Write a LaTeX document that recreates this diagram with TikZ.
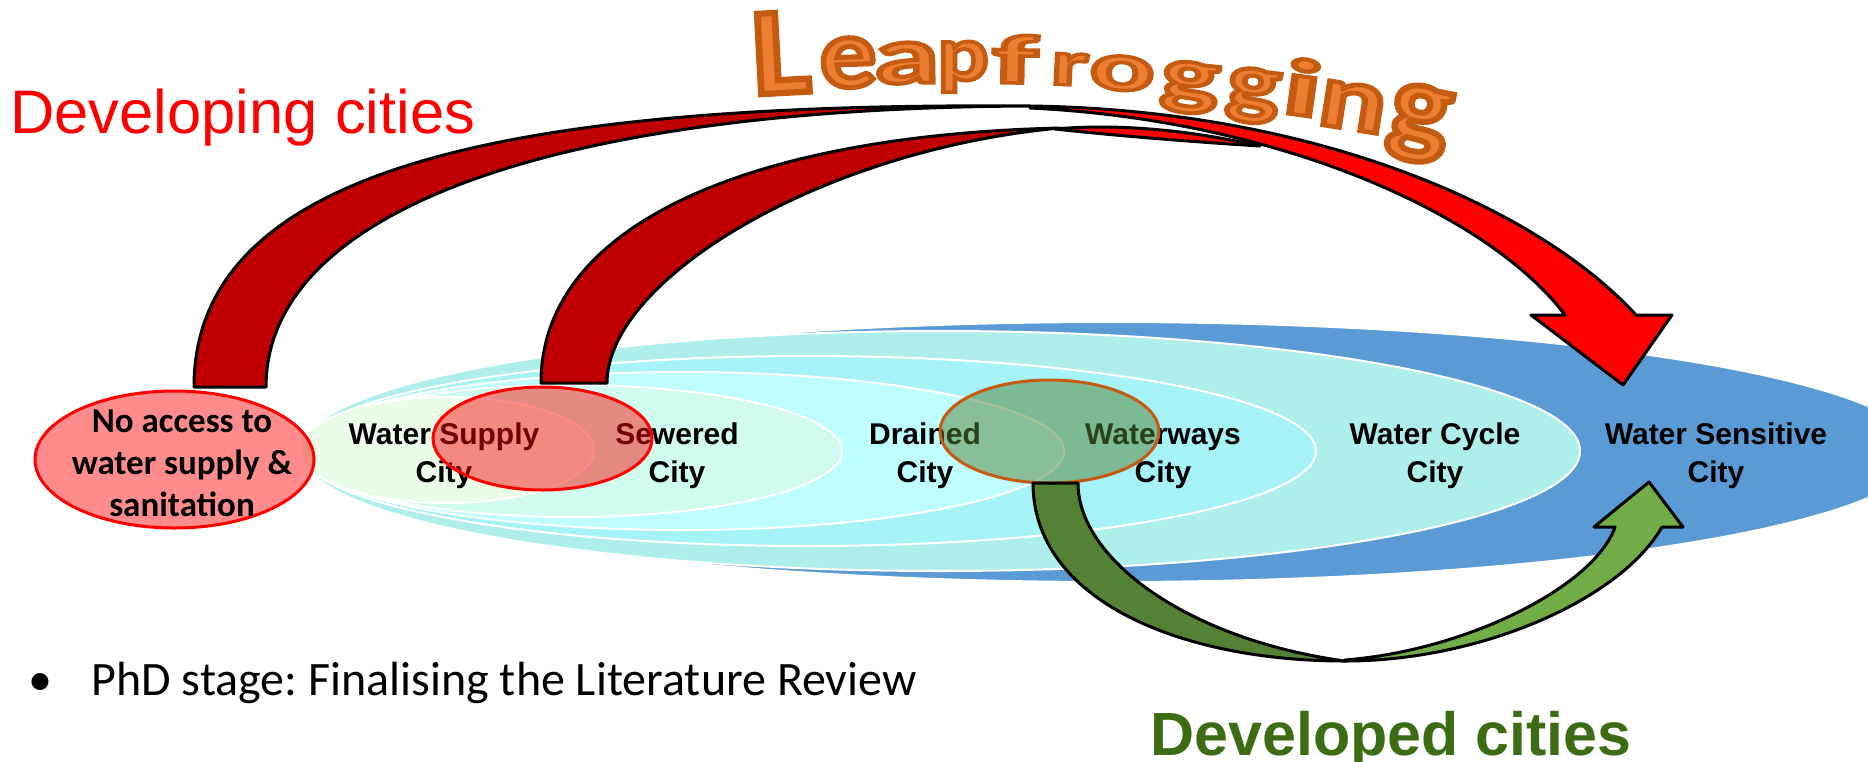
\documentclass[tikz,border=0pt]{standalone}
\usepackage{fontspec}
\setmainfont{Liberation Sans}
\newfontfamily\calfont{Carlito}
\newfontfamily\lffont[FakeBold=5]{Carlito}
\definecolor{cBlue}{HTML}{5B9BD5}
\definecolor{cCycle}{HTML}{AEEFEC}
\definecolor{cWays}{HTML}{A5F3F7}
\definecolor{cDrain}{HTML}{BEFEFE}
\definecolor{cSewer}{HTML}{D0FCEF}
\definecolor{cSupply}{HTML}{EAFDE8}
\definecolor{rDark}{HTML}{C00000}
\definecolor{rBright}{HTML}{FF0000}
\definecolor{gDark}{HTML}{548235}
\definecolor{gBright}{HTML}{70AD47}
\definecolor{ovGreen}{HTML}{548235}
\definecolor{ovEdge}{HTML}{C55A11}
\definecolor{orFill}{HTML}{ED7D31}
\definecolor{devGreen}{RGB}{60,108,20}
\newcommand\twoln[2]{\begin{tabular}[t]{@{}c@{}}#1\\#2\end{tabular}}
\newcommand\threeln[3]{\begin{tabular}[t]{@{}c@{}}#1\\#2\\#3\end{tabular}}
% outlined letter: orange fill, dark orange stroke
\newcommand\olet[1]{\special{pdf:bcolor [0.929 0.490 0.192] [0.773 0.353 0.067]}#1\special{pdf:ecolor}}
\frenchspacing
\begin{document}
\begin{tikzpicture}[x=0.5pt,y=-0.5pt,
  ring/.style={draw=white, line width=1pt},
  city/.style={anchor=base, inner sep=0pt, font=\bfseries\fontsize{15}{19}\selectfont},
  redov/.style={draw=rBright, line width=1.5pt, fill=rBright, fill opacity=0.45},
  greenov/.style={draw=ovEdge, line width=1.5pt, fill=ovGreen, fill opacity=0.5},
  arr/.style={draw=black, line width=1.5pt, line join=round},
  lfl/.style={anchor=base, inner sep=0pt, text=orFill, font=\lffont\bfseries\fontsize{50}{50}\selectfont}]
\useasboundingbox (0,0) rectangle (1868,761);
\clip (0,0) rectangle (1868,761);
\fill[white] (0,0) rectangle (1868,761);

% nested city ellipses
\path[ring, fill=cBlue]   (1110,452) ellipse [x radius=405pt, y radius=65pt];
\path[ring, fill=cCycle]  (940,451)  ellipse [x radius=320pt, y radius=60pt];
\path[ring, fill=cWays]   (808,451)  ellipse [x radius=254pt, y radius=47.5pt];
\path[ring, fill=cDrain]  (682,451)  ellipse [x radius=191pt, y radius=39.5pt];
\path[ring, fill=cSewer]  (571,451)  ellipse [x radius=135.5pt, y radius=33pt];
\path[ring, fill=cSupply] (447,450)  ellipse [x radius=73.5pt, y radius=26.5pt];

% city labels
\node[city] (supply) at (444,444)  {\twoln{Water Supply}{City}};
\node[city] (sewer)  at (677,444)  {\twoln{Sewered}{City}};
\node[city] (drain)  at (925,444)  {\twoln{Drained}{City}};
\node[city] (ways)   at (1163,444) {\twoln{Waterways}{City}};
\node[city] (cycle)  at (1435,444) {\twoln{Water Cycle}{City}};
\node[city] (sens)   at (1716,444) {\twoln{Water Sensitive}{City}};

% no access ellipse
\path[redov] (174.5,459.5) ellipse [x radius=69.75pt, y radius=34.25pt];
\node[anchor=base, inner sep=0pt, font=\calfont\bfseries\fontsize{17.5}{21}\selectfont] (noacc) at (182,432)
  {\threeln{No access to}{water supply \&}{sanitation}};

% overlays
\path[redov] (542.5,438.5) ellipse [x radius=54.75pt, y radius=25.75pt];
\path[greenov] (1049.5,431.5) ellipse [x radius=54.75pt, y radius=25.75pt];

% red arrow from "Water Supply"
\filldraw[arr, fill=rDark] (541,383) .. controls (541,220) and (760,135) .. (1060,128)
  .. controls (820,150) and (607,280) .. (607,383) -- cycle;
\filldraw[arr, fill=rBright] (1055,129) .. controls (1110,124) and (1180,128) .. (1260,146)
  .. controls (1180,141) and (1110,135) .. (1055,129) -- cycle;
% red arrow from "No access"
\filldraw[arr, fill=rDark] (194,387) .. controls (194,170) and (500,102) .. (1030,106)
  .. controls (540,108) and (266,215) .. (266,387) -- cycle;
\filldraw[arr, fill=rBright] (1030,106) .. controls (1320,110) and (1540,210) .. (1636,315)
  -- (1672,315) -- (1623,385) -- (1531,315) -- (1565,315)
  .. controls (1490,215) and (1280,120) .. (1030,108) -- cycle;

% green arrow
\filldraw[arr, fill=gDark] (1033,483) .. controls (1033,600) and (1180,661) .. (1345,661)
  .. controls (1190,640) and (1078,560) .. (1078,483) -- cycle;
\filldraw[arr, fill=gBright] (1345,661) .. controls (1480,661) and (1620,600) .. (1662,527)
  -- (1683,527) -- (1649,482) -- (1594,527) -- (1615,527)
  .. controls (1595,585) and (1470,650) .. (1345,660) -- cycle;

% titles
\node[anchor=base west, inner sep=0pt, text=rBright, font=\fontsize{30.75}{36}\selectfont] (dvl) at (10,133) {Developing cities};
\node[anchor=base west, inner sep=0pt, text=devGreen, font=\bfseries\fontsize{30.5}{36}\selectfont] (dvd) at (1150,755) {Developed cities};
\node[anchor=base, inner sep=0pt, font=\calfont\fontsize{24}{28}\selectfont] (bul) at (40,695) {\textbullet};
\node[anchor=base west, inner sep=0pt, font=\calfont\fontsize{24}{28}\selectfont] (phd) at (91,695) {PhD stage: Finalising the Literature Review};

% Leapfrogging
\node[lfl, rotate=3,   xscale=1.36, yscale=1.24] (lf1)  at (783,93)   {\olet{L}};
\node[lfl, rotate=2,   xscale=1.12, yscale=1.0]  (lf2)  at (849,87)   {\olet{e}};
\node[lfl, rotate=1,   xscale=1.3,  yscale=0.82] (lf3)  at (907,83)   {\olet{a}};
\node[lfl, rotate=0,   xscale=0.95, yscale=0.78] (lf4)  at (963,80)   {\olet{p}};
\node[lfl, rotate=-1,  xscale=1.4,  yscale=0.69] (lf5)  at (1015,83)  {\olet{f}};
\node[lfl, rotate=-3,  xscale=1.05, yscale=0.64] (lf6)  at (1069,85)  {\olet{r}};
\node[lfl, rotate=-4,  xscale=1.2,  yscale=0.69] (lf7)  at (1121,90)  {\olet{o}};
\node[lfl, rotate=-6,  xscale=1.22, yscale=0.77] (lf8)  at (1188,100) {\olet{g}};
\node[lfl, rotate=-7,  xscale=1.12, yscale=0.82] (lf9)  at (1251,109) {\olet{g}};
\node[lfl, rotate=-8,  xscale=1.5,  yscale=0.8]  (lf10) at (1299,115) {\olet{i}};
\node[lfl, rotate=-9,  xscale=1.25, yscale=0.92] (lf11) at (1349,129) {\olet{n}};
\node[lfl, rotate=-11, xscale=1.28, yscale=1.15] (lf12) at (1415,142) {\olet{g}};
\end{tikzpicture}
\end{document}
